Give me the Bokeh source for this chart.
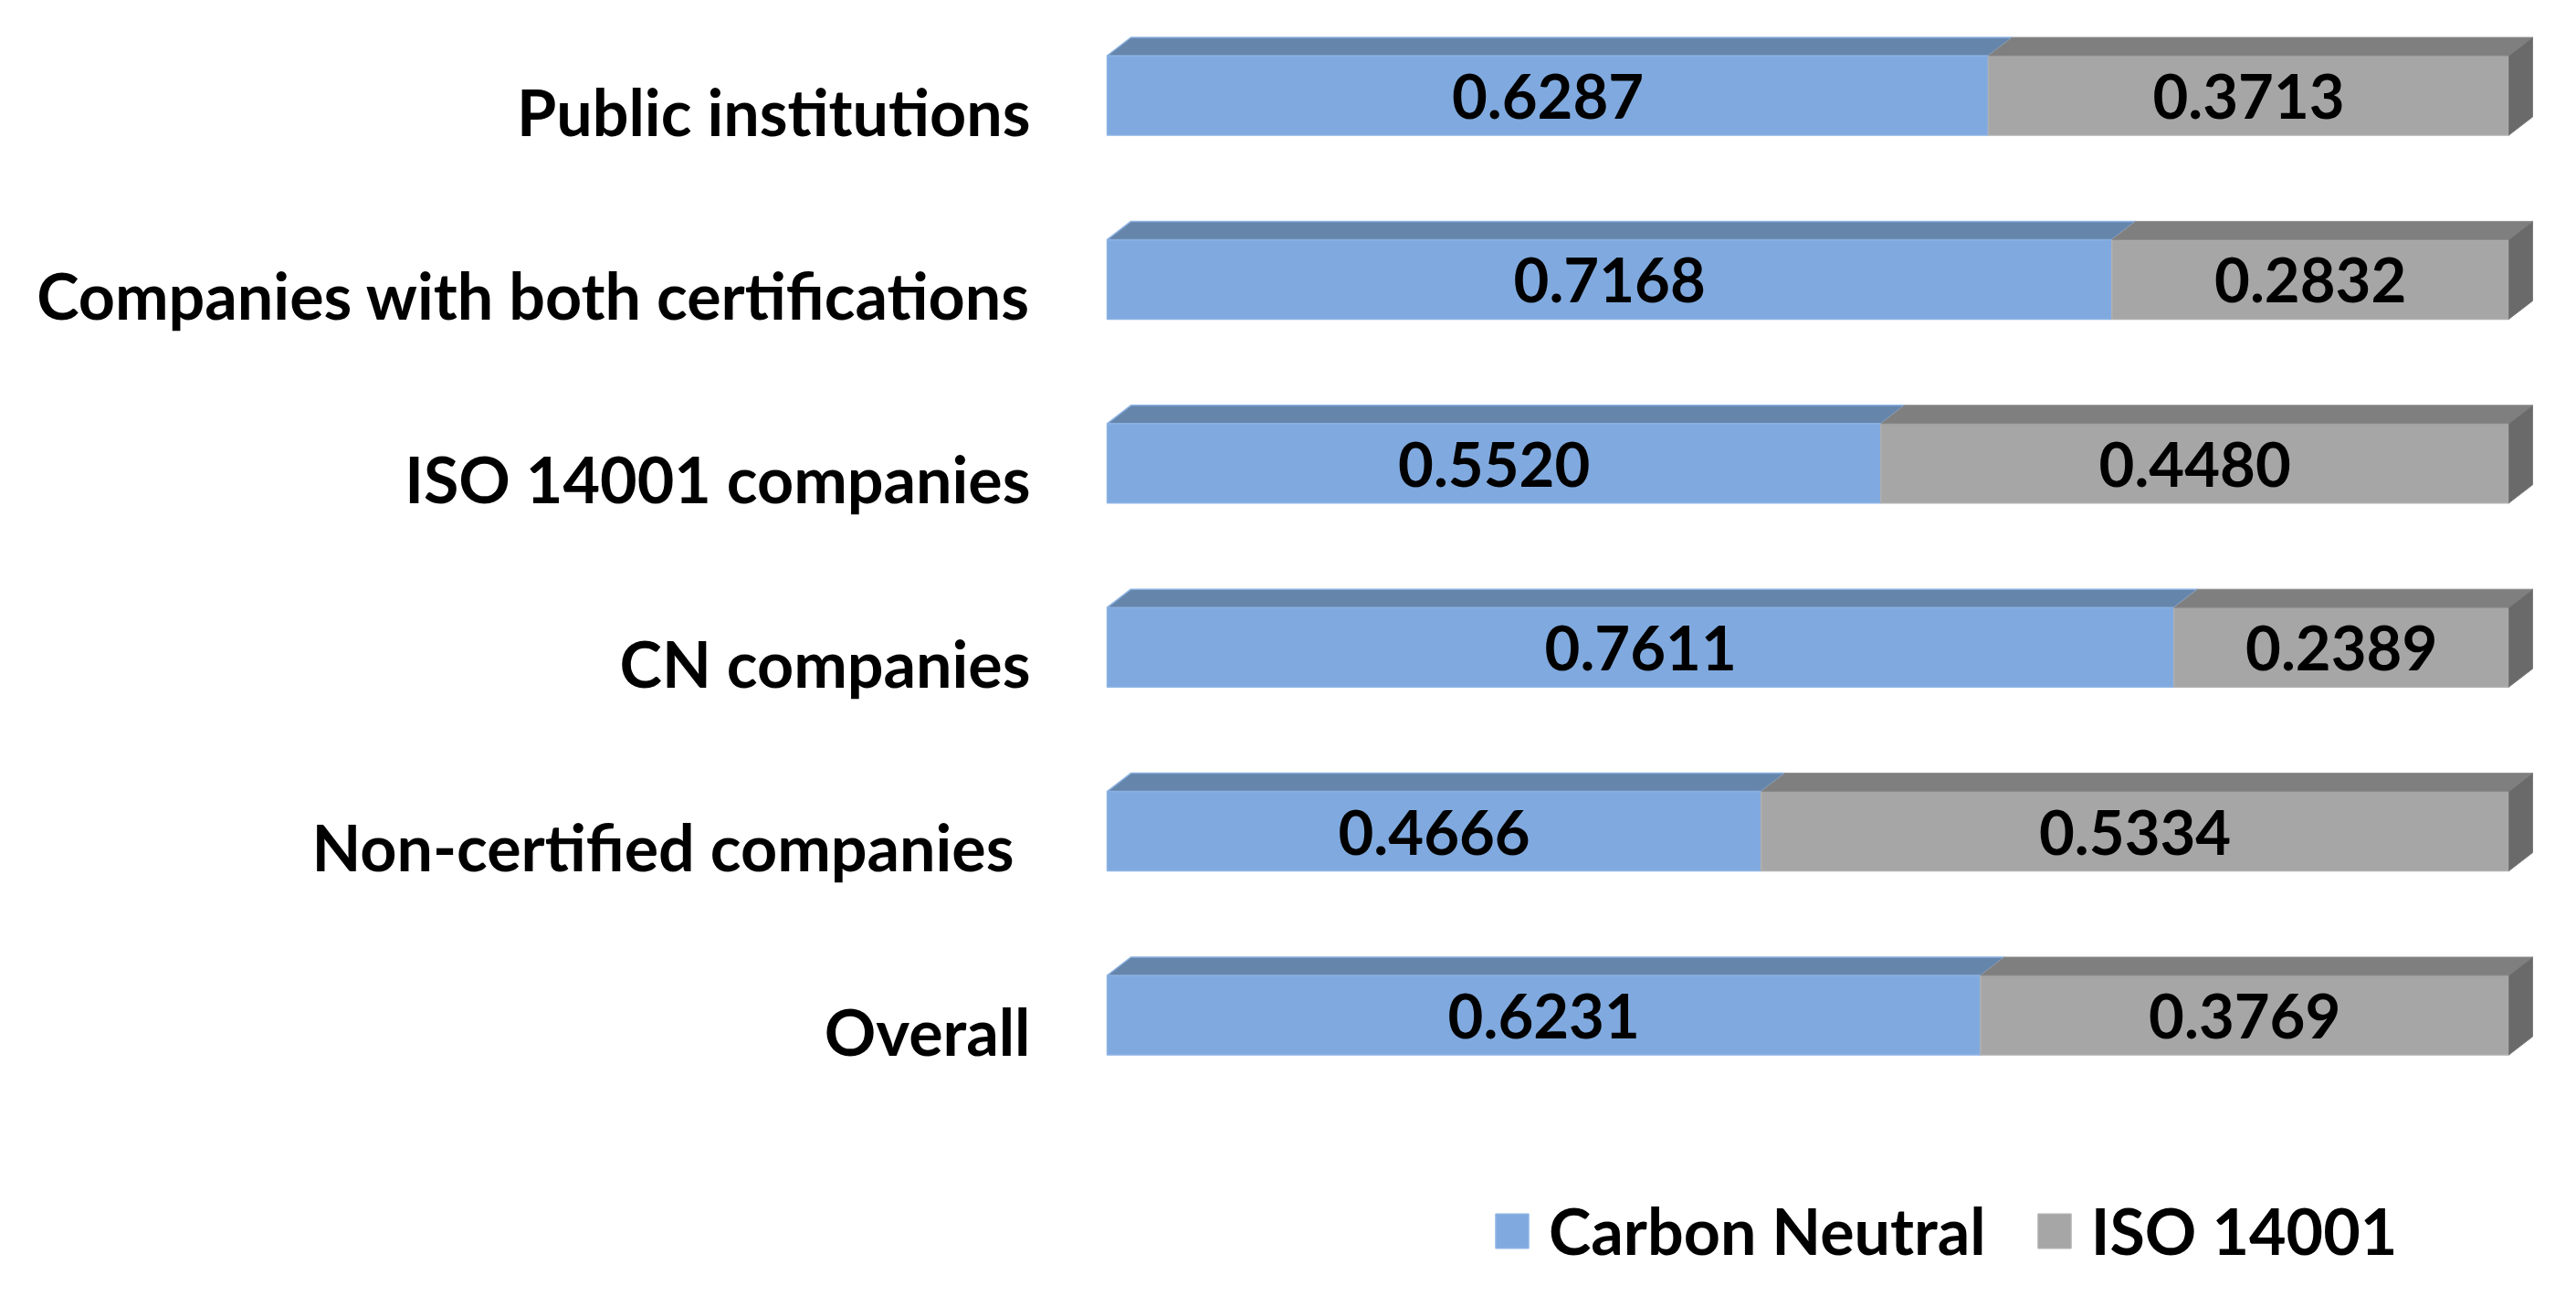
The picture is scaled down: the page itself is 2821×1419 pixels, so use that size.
from bokeh.plotting import figure
from bokeh.models import ColumnDataSource, Range1d, Legend, LegendItem
from bokeh.core.properties import value
from bokeh.embed import file_html
from bokeh.resources import INLINE

# ---- data ----
categories = ["Overall", "Non-certified companies", "CN companies",
              "ISO 14001 companies", "Companies with both certifications",
              "Public institutions"]
carbon_neutral = [0.6231, 0.4666, 0.7611, 0.5520, 0.7168, 0.6287]
iso_14001 = [0.3769, 0.5334, 0.2389, 0.4480, 0.2832, 0.3713]
series_names = ["Carbon Neutral", "ISO 14001"]

# ---- layout / style ----
W, H = 2805, 1403
PX_X = 1535.0          # pixels per unit of value
PX_Y = 201.4           # pixels per category row
X0 = 1212              # pixel of value 0 inside the frame
Y_TOP_ROW = 104        # pixel of top row center
Y_BOT_ROW = 1111       # pixel of bottom row center
BAR_H = 87 / PX_Y
DX = 26 / PX_X
DY = 20 / PX_Y

BLUE = "#80AADF"
BLUE_TOP = "#6585AB"
GRAY = "#A6A6A6"
GRAY_TOP = "#7F7F7F"
GRAY_SIDE = "#6A6A6A"
FONT = "Lato"

n = len(categories)
ys = list(range(n))

p = figure(width=W, height=H,
           x_range=Range1d(-X0 / PX_X, (W - X0) / PX_X),
           y_range=Range1d(-(H - Y_BOT_ROW) / PX_Y, (n - 1) + Y_TOP_ROW / PX_Y),
           output_backend="svg", toolbar_location=None, min_border=0,
           x_axis_location=None, y_axis_location=None)
p.grid.visible = False
p.outline_line_color = None
p.background_fill_color = "white"
p.border_fill_color = "white"

cn = carbon_neutral
iso = iso_14001
ends = [c + i for c, i in zip(cn, iso)]

# front faces
blue_src = ColumnDataSource(dict(y=ys, left=[0] * n, right=cn))
gray_src = ColumnDataSource(dict(y=ys, left=cn, right=ends))
r_blue = p.hbar(y="y", left="left", right="right", height=BAR_H, source=blue_src,
                fill_color=BLUE, line_color="#8DB4E4", line_width=1.5)
r_gray = p.hbar(y="y", left="left", right="right", height=BAR_H, source=gray_src,
                fill_color=GRAY, line_color="#B0B0B0", line_width=1.5)

# top and side faces
bt_xs, bt_ys, gt_xs, gt_ys, gs_xs, gs_ys = [], [], [], [], [], []
for y, c, e in zip(ys, cn, ends):
    top = y + BAR_H / 2
    bot = y - BAR_H / 2
    bt_xs.append([0, c, c + DX, DX])
    bt_ys.append([top, top, top + DY, top + DY])
    gt_xs.append([c, e, e + DX, c + DX])
    gt_ys.append([top, top, top + DY, top + DY])
    gs_xs.append([e, e + DX, e + DX, e])
    gs_ys.append([bot, bot + DY, top + DY, top])

p.patches(bt_xs, bt_ys, fill_color=BLUE_TOP, line_color="#8AB0E0", line_width=1.5)
p.patches(gt_xs, gt_ys, fill_color=GRAY_TOP, line_color="#8A8A8A", line_width=1)
p.patches(gs_xs, gs_ys, fill_color=GRAY_SIDE, line_color="#7A7A7A", line_width=1)

# value labels
lab_x = [c / 2 for c in cn] + [c + i / 2 for c, i in zip(cn, iso)]
lab_y = ys + ys
lab_t = [f"{v:.4f}" for v in cn] + [f"{v:.4f}" for v in iso]
p.text(x=lab_x, y=lab_y, text=lab_t, text_align="center",
       text_baseline="alphabetic", y_offset=1,
       text_font=value(FONT), text_font_style="bold", text_font_size="67px",
       text_color="black")

# category labels
cat_offsets = [0, -18, 0, 0, 0, 0]
p.text(x=[-84 / PX_X] * n, y=ys, text=categories, x_offset=cat_offsets,
       text_align="right", text_baseline="alphabetic", y_offset=17,
       text_font=value(FONT), text_font_style="bold", text_font_size="70px",
       text_color="black")

legend = Legend(items=[LegendItem(label=series_names[0], renderers=[r_blue]),
                       LegendItem(label=series_names[1], renderers=[r_gray])],
                orientation="horizontal", location=(1633, 14),
                glyph_width=45, glyph_height=47, label_standoff=18,
                spacing=52, padding=0, margin=0,
                label_text_font=FONT, label_text_font_style="bold",
                label_text_font_size="70px", label_text_color="black",
                label_height=47,
                border_line_color=None, background_fill_alpha=0)
p.add_layout(legend)

open("out.html", "w").write(file_html(p, INLINE))
